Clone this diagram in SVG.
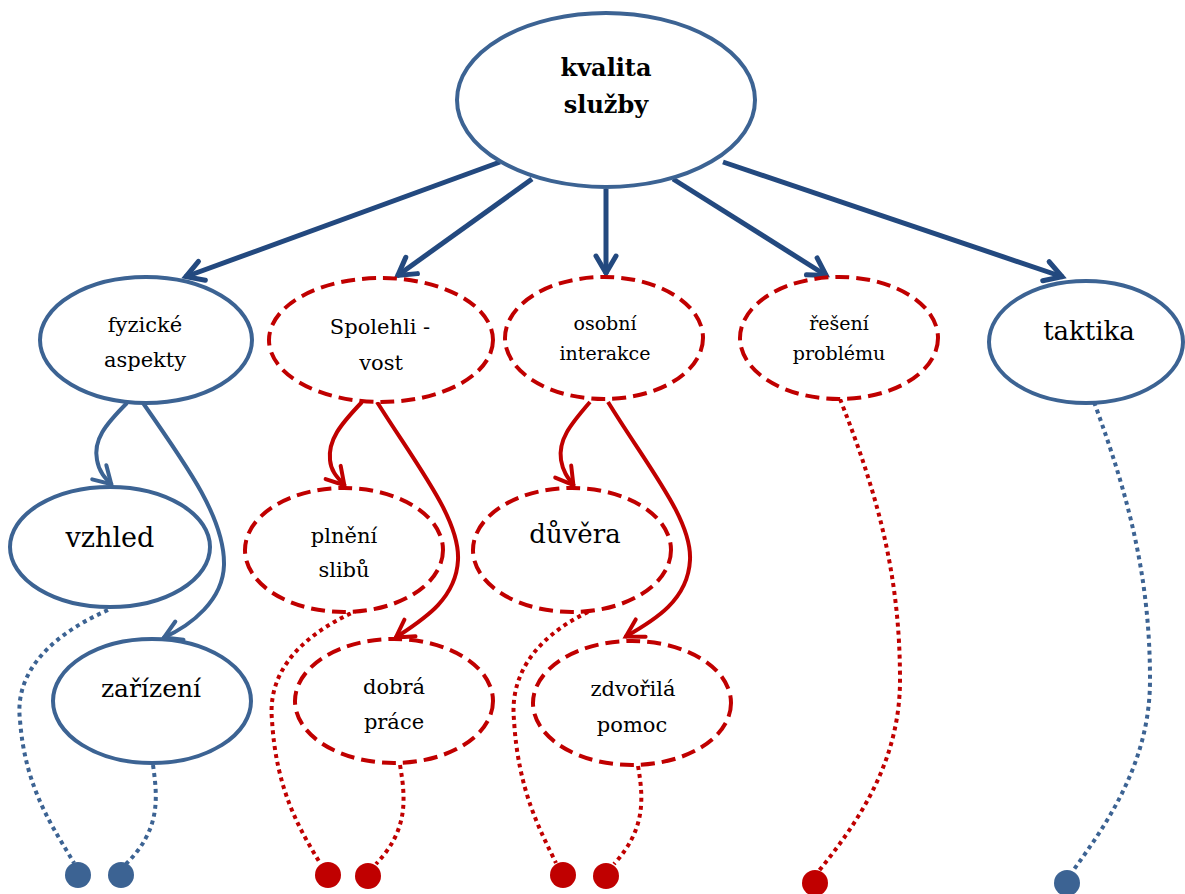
<svg xmlns="http://www.w3.org/2000/svg" width="1185" height="894" viewBox="0 0 1185 894">
<style>
.nb{fill:#fff;stroke:#3C6393;stroke-width:4}
.nr{fill:#fff;stroke:#C00000;stroke-width:4;stroke-dasharray:14 7}
.t{fill:#000;text-anchor:middle}
.cm{fill:none;stroke:#23497F;stroke-width:5}
.cb{fill:none;stroke:#3C6393;stroke-width:4}
.cr{fill:none;stroke:#C00000;stroke-width:4}
.db{fill:none;stroke:#3C6393;stroke-width:4;stroke-dasharray:4 4}
.dr{fill:none;stroke:#C00000;stroke-width:4;stroke-dasharray:4 4}
</style>
<defs>
<marker id="am" markerUnits="userSpaceOnUse" markerWidth="40" markerHeight="40" viewBox="-25 -20 30 40" refX="1" refY="0" orient="auto"><path d="M-17,-10 L0,0 L-17,10" fill="none" stroke="#23497F" stroke-width="5" stroke-linecap="round"/></marker>
<marker id="ab" markerUnits="userSpaceOnUse" markerWidth="40" markerHeight="40" viewBox="-25 -20 30 40" refX="1" refY="0" orient="auto"><path d="M-17,-10 L0,0 L-17,10" fill="none" stroke="#3C6393" stroke-width="4" stroke-linecap="round"/></marker>
<marker id="ar" markerUnits="userSpaceOnUse" markerWidth="40" markerHeight="40" viewBox="-25 -20 30 40" refX="1" refY="0" orient="auto"><path d="M-17,-10 L0,0 L-17,10" fill="none" stroke="#C00000" stroke-width="4" stroke-linecap="round"/></marker>
</defs>
<rect width="1185" height="894" fill="#fff"/>
<g id="connectors">
<line class="cm" x1="500" y1="162" x2="185" y2="277" marker-end="url(#am)"/>
<line class="cm" x1="532" y1="179" x2="397" y2="276" marker-end="url(#am)"/>
<line class="cm" x1="606" y1="189" x2="606" y2="274" marker-end="url(#am)"/>
<line class="cm" x1="673" y1="179" x2="827" y2="276" marker-end="url(#am)"/>
<line class="cm" x1="723" y1="162" x2="1063" y2="277" marker-end="url(#am)"/>
<path class="cb" d="M127,403 C105,425 93,440 97,460 C99,472 105,478 112,485" marker-end="url(#ab)"/>
<path class="cb" d="M143,403 C190,470 225,520 224,565 C223,600 192,625 163,638" marker-end="url(#ab)"/>
<path class="cr" d="M362,402 C340,425 328,440 330,460 C331,472 338,478 345,486" marker-end="url(#ar)"/>
<path class="cr" d="M377,402 C420,470 460,520 458,560 C456,600 422,620 395,638" marker-end="url(#ar)"/>
<path class="cr" d="M590,402 C570,425 558,440 561,460 C563,472 568,478 574,486" marker-end="url(#ar)"/>
<path class="cr" d="M608,402 C650,470 692,520 690,560 C688,600 655,620 625,637" marker-end="url(#ar)"/>
<path class="db" d="M108,610 C40,640 15,680 20,720 C25,790 55,830 74,863"/>
<path class="db" d="M153,765 C158,800 160,830 126,864"/>
<path class="dr" d="M358,610 C290,640 268,680 272,720 C276,790 300,830 320,863"/>
<path class="dr" d="M400,765 C406,800 408,830 376,864"/>
<path class="dr" d="M588,612 C530,640 510,680 514,720 C518,790 540,830 556,863"/>
<path class="dr" d="M638,766 C644,800 645,830 614,864"/>
<path class="dr" d="M840,399 C880,500 900,580 900,680 C900,760 860,820 818,872"/>
<path class="db" d="M1094,402 C1130,500 1150,580 1150,680 C1150,760 1110,820 1072,872"/>
<circle cx="78" cy="875" r="13" fill="#3C6393"/>
<circle cx="121" cy="875" r="13" fill="#3C6393"/>
<circle cx="328" cy="875" r="13" fill="#C00000"/>
<circle cx="368" cy="876" r="13" fill="#C00000"/>
<circle cx="563" cy="875" r="13" fill="#C00000"/>
<circle cx="606" cy="876" r="13" fill="#C00000"/>
<circle cx="815" cy="883" r="13" fill="#C00000"/>
<circle cx="1067" cy="883" r="13" fill="#3C6393"/>
</g>
<g font-family="DejaVu Serif, Liberation Serif, serif">
<g id="kvalita"><ellipse class="nb" cx="606" cy="100" rx="149" ry="87"/><text class="t" x="606" y="76" font-size="24" font-weight="bold">kvalita</text><text class="t" x="606" y="113" font-size="24" font-weight="bold">služby</text></g>
<g id="fyzicke"><ellipse class="nb" cx="146" cy="340" rx="106" ry="63"/><text class="t" x="145" y="332" font-size="21">fyzické</text><text class="t" x="145" y="367" font-size="21">aspekty</text></g>
<g id="spolehlivost"><ellipse class="nr" cx="381" cy="340" rx="112" ry="62"/><text class="t" x="380" y="334" font-size="21">Spolehli -</text><text class="t" x="381" y="370" font-size="21">vost</text></g>
<g id="osobni"><ellipse class="nr" cx="604" cy="338" rx="99" ry="61"/><text class="t" x="605" y="330" font-size="19">osobní</text><text class="t" x="605" y="360" font-size="19">interakce</text></g>
<g id="reseni"><ellipse class="nr" cx="839" cy="338" rx="99" ry="61"/><text class="t" x="839" y="330" font-size="19">řešení</text><text class="t" x="839" y="360" font-size="19">problému</text></g>
<g id="taktika"><ellipse class="nb" cx="1086" cy="342" rx="97" ry="61"/><text class="t" x="1089" y="340" font-size="26">taktika</text></g>
<g id="vzhled"><ellipse class="nb" cx="110" cy="547" rx="100" ry="60"/><text class="t" x="110" y="547" font-size="27">vzhled</text></g>
<g id="plneni"><ellipse class="nr" cx="344" cy="550" rx="99" ry="62"/><text class="t" x="344" y="543" font-size="21">plnění</text><text class="t" x="344" y="577" font-size="21">slibů</text></g>
<g id="duvera"><ellipse class="nr" cx="572" cy="550" rx="99" ry="62"/><text class="t" x="575" y="543" font-size="26">důvěra</text></g>
<g id="zarizeni"><ellipse class="nb" cx="152" cy="701" rx="99" ry="62"/><text class="t" x="151" y="697" font-size="25">zařízení</text></g>
<g id="dobra"><ellipse class="nr" cx="394" cy="701" rx="99" ry="62"/><text class="t" x="394" y="694" font-size="21">dobrá</text><text class="t" x="394" y="729" font-size="21">práce</text></g>
<g id="zdvorila"><ellipse class="nr" cx="632" cy="703" rx="99" ry="62"/><text class="t" x="633" y="696" font-size="21">zdvořilá</text><text class="t" x="632" y="732" font-size="21">pomoc</text></g>
</g>
</svg>
